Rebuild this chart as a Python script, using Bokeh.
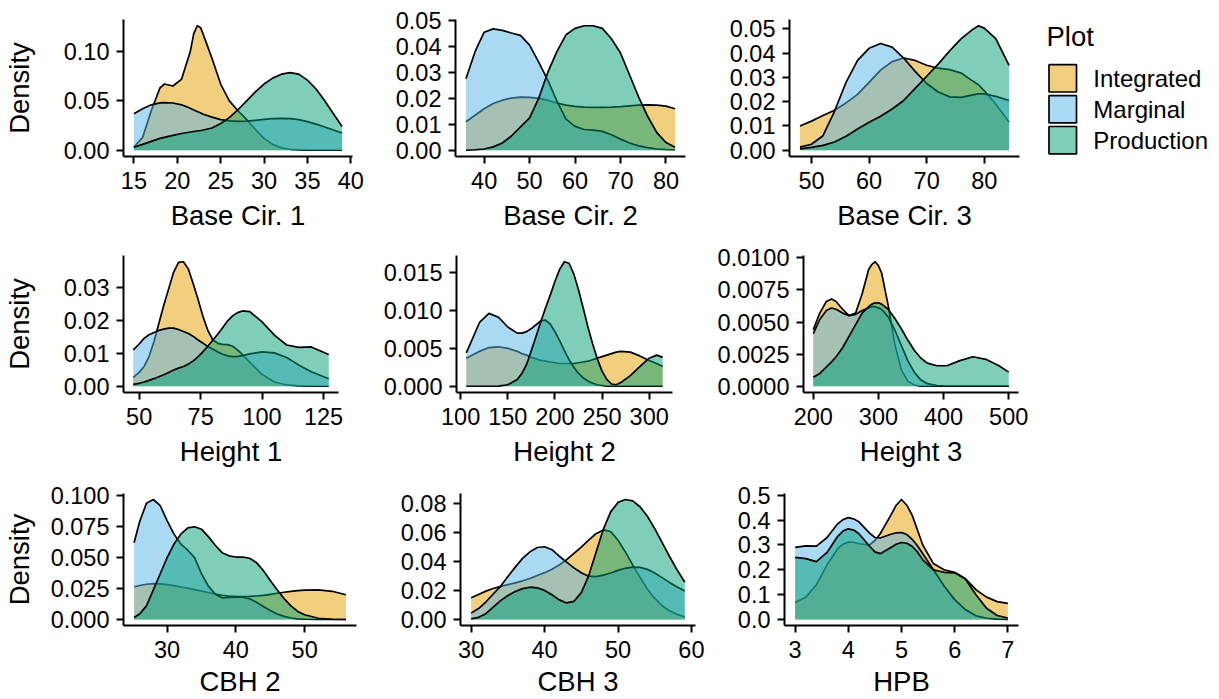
import math
from bokeh.plotting import figure
from bokeh.layouts import column, row
from bokeh.models import Range1d, FixedTicker
from bokeh.core.properties import value
from bokeh.embed import file_html
from bokeh.resources import INLINE

# ---------------- data ----------------
groups = ["Integrated", "Marginal", "Production"]
group_colors = ["#E69F00", "#56B4E9", "#009E73"]

# Base Cir. 1
bc1_x = [15, 16, 17, 18, 18.5, 19.5, 20.5, 21.5, 21.9, 22.3, 22.7, 23, 24, 25, 26, 27, 28, 29, 30, 31, 32, 33, 34, 35, 36, 37, 38, 39]
bc1_integrated = [0.003, 0.013, 0.04, 0.063, 0.067, 0.065, 0.072, 0.1, 0.118, 0.126, 0.124, 0.117, 0.093, 0.067, 0.05, 0.04, 0.031, 0.021, 0.012, 0.006, 0.0025, 0.001, 0.0004, 0.0001, 0, 0, 0, 0]
bc1_marginal = [0.037, 0.042, 0.046, 0.048, 0.0483, 0.0478, 0.046, 0.0425, 0.0408, 0.0392, 0.0377, 0.0365, 0.0335, 0.031, 0.0297, 0.0292, 0.0294, 0.0303, 0.0313, 0.032, 0.0322, 0.032, 0.031, 0.029, 0.0265, 0.0235, 0.0205, 0.0175]
bc1_production = [0.003, 0.006, 0.009, 0.012, 0.013, 0.015, 0.017, 0.0185, 0.019, 0.0195, 0.02, 0.0205, 0.0225, 0.027, 0.033, 0.041, 0.05, 0.059, 0.067, 0.073, 0.077, 0.0785, 0.077, 0.071, 0.062, 0.05, 0.037, 0.024]
bc1_xticks = [15, 20, 25, 30, 35, 40]
bc1_yticks = [0, 0.05, 0.10]
bc1_ylabels = ["0.00", "0.05", "0.10"]

# Base Cir. 2
bc2_x = [36, 38, 40, 42, 44, 46, 48, 50, 52, 54, 56, 58, 60, 62, 64, 66, 68, 70, 72, 74, 76, 78, 80, 82]
bc2_integrated = [0.011, 0.0135, 0.016, 0.018, 0.0193, 0.0201, 0.0205, 0.0204, 0.02, 0.0193, 0.0182, 0.0174, 0.0169, 0.0166, 0.0165, 0.0165, 0.0166, 0.0168, 0.0171, 0.0174, 0.0175, 0.0174, 0.017, 0.016]
bc2_marginal = [0.0276, 0.038, 0.0455, 0.0468, 0.0462, 0.0452, 0.0443, 0.0405, 0.034, 0.027, 0.019, 0.012, 0.0092, 0.008, 0.0078, 0.0073, 0.006, 0.0043, 0.0028, 0.0017, 0.001, 0.0005, 0.0003, 0.0002]
bc2_production = [0.0, 0.0002, 0.0005, 0.0013, 0.0028, 0.0055, 0.009, 0.0125, 0.02, 0.03, 0.038, 0.0445, 0.047, 0.048, 0.048, 0.047, 0.043, 0.0375, 0.029, 0.0205, 0.013, 0.0068, 0.003, 0.0012]
bc2_xticks = [40, 50, 60, 70, 80]
bc2_yticks = [0, 0.01, 0.02, 0.03, 0.04, 0.05]
bc2_ylabels = ["0.00", "0.01", "0.02", "0.03", "0.04", "0.05"]

# Base Cir. 3
bc3_x = [48, 50, 52, 54, 56, 58, 60, 62, 64, 66, 68, 70, 72, 74, 76, 78, 79, 80, 82, 84.3]
bc3_integrated = [0.0100, 0.012, 0.0143, 0.0165, 0.0195, 0.023, 0.028, 0.033, 0.0365, 0.038, 0.037, 0.035, 0.0338, 0.0332, 0.0318, 0.0285, 0.027, 0.0245, 0.019, 0.0116]
bc3_marginal = [0.0013, 0.0025, 0.006, 0.016, 0.028, 0.037, 0.042, 0.044, 0.0425, 0.038, 0.0325, 0.0275, 0.024, 0.022, 0.0218, 0.0228, 0.0232, 0.0232, 0.0222, 0.0205]
bc3_production = [0.0006, 0.0012, 0.002, 0.0034, 0.0058, 0.0088, 0.0115, 0.014, 0.017, 0.0205, 0.0255, 0.0305, 0.0355, 0.041, 0.046, 0.0498, 0.0513, 0.0503, 0.046, 0.035]
bc3_xticks = [50, 60, 70, 80]
bc3_yticks = [0, 0.01, 0.02, 0.03, 0.04, 0.05]
bc3_ylabels = ["0.00", "0.01", "0.02", "0.03", "0.04", "0.05"]

# Height 1
h1_x = [47.6, 50, 52, 54, 56, 58, 60, 62, 64, 66, 68, 70, 72, 74, 76, 78, 80, 82, 84, 86, 88, 90, 92, 95, 100, 105, 110, 115, 120, 127.1]
h1_integrated = [0.0027, 0.0042, 0.006, 0.009, 0.0135, 0.019, 0.0245, 0.0295, 0.0345, 0.0375, 0.0377, 0.0355, 0.031, 0.0262, 0.021, 0.0168, 0.014, 0.013, 0.0127, 0.0126, 0.0121, 0.011, 0.0096, 0.0073, 0.0036, 0.0013, 0.0004, 0.0001, 0, 0]
h1_marginal = [0.011, 0.0128, 0.0145, 0.0156, 0.0163, 0.0169, 0.0173, 0.0176, 0.0176, 0.0172, 0.0166, 0.016, 0.0151, 0.014, 0.013, 0.012, 0.0112, 0.0104, 0.0097, 0.0092, 0.009, 0.009, 0.0093, 0.0098, 0.0104, 0.0101, 0.0087, 0.0064, 0.0044, 0.0023]
h1_production = [0.0006, 0.0009, 0.0013, 0.0018, 0.0023, 0.0029, 0.0035, 0.0042, 0.0049, 0.0055, 0.006, 0.0067, 0.0077, 0.009, 0.0105, 0.0122, 0.014, 0.0158, 0.0178, 0.0198, 0.0213, 0.0223, 0.0228, 0.0226, 0.0195, 0.0155, 0.0125, 0.0118, 0.0119, 0.0096]
h1_xticks = [50, 75, 100, 125]
h1_yticks = [0, 0.01, 0.02, 0.03]
h1_ylabels = ["0.00", "0.01", "0.02", "0.03"]

# Height 2
h2_x = [106, 120, 130, 140, 150, 160, 165, 170, 175, 180, 185, 190, 195, 200, 205, 210, 215, 220, 225, 230, 235, 240, 245, 250, 255, 260, 265, 270, 280, 290, 300, 308, 314.3]
h2_integrated = [0.0037, 0.0046, 0.0051, 0.0052, 0.005, 0.0046, 0.0043, 0.0041, 0.0038, 0.0036, 0.0034, 0.0033, 0.0032, 0.0031, 0.003, 0.003, 0.003, 0.003, 0.0031, 0.0032, 0.0033, 0.0035, 0.0037, 0.0039, 0.0041, 0.0043, 0.0045, 0.0046, 0.0045, 0.004, 0.0034, 0.003, 0.0026]
h2_marginal = [0.0044, 0.0084, 0.0096, 0.0091, 0.0078, 0.007, 0.007, 0.0072, 0.0076, 0.0081, 0.0086, 0.0087, 0.0082, 0.0072, 0.006, 0.0047, 0.0035, 0.0025, 0.0017, 0.0011, 0.0007, 0.0004, 0.0002, 0.0001, 0, 0, 0, 0, 0, 0, 0, 0, 0]
h2_production = [0, 0, 0, 0.00003, 0.0002, 0.0009, 0.0017, 0.0029, 0.0047, 0.0066, 0.0085, 0.0103, 0.012, 0.0138, 0.0154, 0.0164, 0.0162, 0.0148, 0.0127, 0.0103, 0.0078, 0.0056, 0.0036, 0.002, 0.0009, 0.0003, 0.0002, 0.0005, 0.0014, 0.0026, 0.0037, 0.0041, 0.0038]
h2_xticks = [100, 150, 200, 250, 300]
h2_yticks = [0, 0.005, 0.010, 0.015]
h2_ylabels = ["0.000", "0.005", "0.010", "0.015"]

# Height 3
h3_x = [200, 210, 220, 228, 235, 245, 255, 265, 275, 285, 290, 295, 300, 305, 315, 325, 335, 345, 355, 365, 375, 390, 405, 425, 445, 465, 485, 500]
h3_integrated = [0.0044, 0.0057, 0.0066, 0.0068, 0.0066, 0.006, 0.0055, 0.0057, 0.0072, 0.0091, 0.0095, 0.0097, 0.0094, 0.0088, 0.0063, 0.0033, 0.0013, 0.0004, 0.0001, 0, 0, 0, 0, 0, 0, 0, 0, 0]
h3_marginal = [0.0041, 0.0052, 0.0059, 0.0061, 0.006, 0.0057, 0.0055, 0.0056, 0.0059, 0.0061, 0.0062, 0.0062, 0.0061, 0.006, 0.0054, 0.0044, 0.0032, 0.002, 0.0011, 0.0005, 0.0002, 0.00005, 0, 0, 0, 0, 0, 0]
h3_production = [0.0007, 0.001, 0.0015, 0.0019, 0.0023, 0.003, 0.0039, 0.0048, 0.0057, 0.0062, 0.0064, 0.0065, 0.0065, 0.0064, 0.006, 0.0053, 0.0045, 0.0036, 0.0028, 0.0022, 0.0018, 0.0016, 0.0016, 0.002, 0.0023, 0.0021, 0.0016, 0.0011]
h3_xticks = [200, 300, 400, 500]
h3_yticks = [0, 0.0025, 0.005, 0.0075, 0.01]
h3_ylabels = ["0.0000", "0.0025", "0.0050", "0.0075", "0.0100"]

# CBH 2
cbh2_x = [25.2, 26, 27, 28, 29, 30, 31, 32, 33, 34, 35, 36, 37, 38, 39, 40, 41, 42, 43, 44, 45, 46, 47, 48, 49, 50, 52, 54, 56]
cbh2_integrated = [0.0265, 0.0275, 0.0285, 0.029, 0.0288, 0.0282, 0.0274, 0.0263, 0.0253, 0.0242, 0.023, 0.0218, 0.0206, 0.0196, 0.019, 0.0187, 0.0186, 0.0187, 0.019, 0.0195, 0.0203, 0.0212, 0.022, 0.0228, 0.0234, 0.0238, 0.0239, 0.0228, 0.02]
cbh2_marginal = [0.062, 0.079, 0.094, 0.097, 0.092, 0.08, 0.069, 0.061, 0.056, 0.05, 0.037, 0.027, 0.0205, 0.0175, 0.0178, 0.0182, 0.018, 0.0168, 0.014, 0.0105, 0.0072, 0.0045, 0.0025, 0.0012, 0.0005, 0.0002, 0, 0, 0]
cbh2_production = [0.0016, 0.0045, 0.011, 0.024, 0.037, 0.05, 0.061, 0.069, 0.074, 0.075, 0.073, 0.067, 0.06, 0.054, 0.0515, 0.0505, 0.0505, 0.0495, 0.046, 0.0395, 0.0315, 0.024, 0.017, 0.011, 0.0065, 0.0038, 0.001, 0.0002, 0]
cbh2_xticks = [30, 40, 50]
cbh2_yticks = [0, 0.025, 0.05, 0.075, 0.1]
cbh2_ylabels = ["0.000", "0.025", "0.050", "0.075", "0.100"]

# CBH 3
cbh3_x = [30, 31, 32, 33, 34, 35, 36, 37, 38, 39, 40, 41, 42, 43, 44, 45, 46, 47, 48, 49, 50, 51, 52, 53, 54, 55, 56, 57, 58, 59.1]
cbh3_integrated = [0.0149, 0.0172, 0.0195, 0.0213, 0.0228, 0.024, 0.0252, 0.0266, 0.0282, 0.0302, 0.0322, 0.0345, 0.0375, 0.0412, 0.0455, 0.0498, 0.0545, 0.059, 0.0616, 0.0605, 0.0545, 0.0465, 0.0375, 0.029, 0.021, 0.0145, 0.0095, 0.006, 0.0036, 0.0018]
cbh3_marginal = [0.0044, 0.0075, 0.012, 0.0175, 0.0228, 0.0295, 0.036, 0.042, 0.0465, 0.0495, 0.05, 0.048, 0.0435, 0.0395, 0.0355, 0.0322, 0.0298, 0.0295, 0.0305, 0.032, 0.0338, 0.0352, 0.036, 0.0358, 0.0345, 0.032, 0.0288, 0.0255, 0.0225, 0.0196]
cbh3_production = [0.0004, 0.0015, 0.004, 0.0085, 0.013, 0.0165, 0.0192, 0.0212, 0.0222, 0.0218, 0.02, 0.017, 0.0135, 0.0114, 0.0125, 0.0185, 0.03, 0.046, 0.062, 0.074, 0.0805, 0.0825, 0.0815, 0.0775, 0.071, 0.0625, 0.053, 0.0435, 0.0345, 0.0256]
cbh3_xticks = [30, 40, 50, 60]
cbh3_yticks = [0, 0.02, 0.04, 0.06, 0.08]
cbh3_ylabels = ["0.00", "0.02", "0.04", "0.06", "0.08"]

# HPB
hpb_x = [3.0, 3.2, 3.4, 3.6, 3.8, 3.9, 4.0, 4.1, 4.2, 4.4, 4.5, 4.6, 4.8, 4.9, 5.0, 5.1, 5.2, 5.3, 5.4, 5.6, 5.8, 6.0, 6.2, 6.4, 6.6, 6.8, 7.0]
hpb_integrated = [0.068, 0.09, 0.14, 0.22, 0.285, 0.303, 0.312, 0.311, 0.305, 0.3, 0.318, 0.345, 0.42, 0.46, 0.483, 0.46, 0.42, 0.36, 0.3, 0.225, 0.2, 0.19, 0.165, 0.12, 0.09, 0.072, 0.065]
hpb_marginal = [0.29, 0.296, 0.295, 0.33, 0.385, 0.402, 0.41, 0.405, 0.393, 0.348, 0.33, 0.328, 0.343, 0.349, 0.35, 0.342, 0.323, 0.297, 0.265, 0.2, 0.135, 0.08, 0.04, 0.015, 0.005, 0.0015, 0.0004]
hpb_production = [0.25, 0.245, 0.233, 0.27, 0.335, 0.356, 0.365, 0.36, 0.345, 0.295, 0.272, 0.265, 0.29, 0.303, 0.31, 0.307, 0.295, 0.272, 0.24, 0.2, 0.19, 0.188, 0.163, 0.1, 0.045, 0.016, 0.006]
hpb_xticks = [3, 4, 5, 6, 7]
hpb_yticks = [0, 0.1, 0.2, 0.3, 0.4, 0.5]
hpb_ylabels = ["0.0", "0.1", "0.2", "0.3", "0.4", "0.5"]

panels = [
    ("Base Cir. 1", bc1_x, [bc1_integrated, bc1_marginal, bc1_production], bc1_xticks, bc1_yticks, bc1_ylabels),
    ("Base Cir. 2", bc2_x, [bc2_integrated, bc2_marginal, bc2_production], bc2_xticks, bc2_yticks, bc2_ylabels),
    ("Base Cir. 3", bc3_x, [bc3_integrated, bc3_marginal, bc3_production], bc3_xticks, bc3_yticks, bc3_ylabels),
    ("Height 1", h1_x, [h1_integrated, h1_marginal, h1_production], h1_xticks, h1_yticks, h1_ylabels),
    ("Height 2", h2_x, [h2_integrated, h2_marginal, h2_production], h2_xticks, h2_yticks, h2_ylabels),
    ("Height 3", h3_x, [h3_integrated, h3_marginal, h3_production], h3_xticks, h3_yticks, h3_ylabels),
    ("CBH 2", cbh2_x, [cbh2_integrated, cbh2_marginal, cbh2_production], cbh2_xticks, cbh2_yticks, cbh2_ylabels),
    ("CBH 3", cbh3_x, [cbh3_integrated, cbh3_marginal, cbh3_production], cbh3_xticks, cbh3_yticks, cbh3_ylabels),
    ("HPB", hpb_x, [hpb_integrated, hpb_marginal, hpb_production], hpb_xticks, hpb_yticks, hpb_ylabels),
]
y_title = "Density"
legend_title = "Plot"

# ---------------- layout / style ----------------
FONT = "Liberation Sans"
TICK_SIZE = "23.5px"
TITLE_SIZE = "27.5px"
FRAME_H = 137
# per-row: (figure height, top border, x-title standoff)
row_specs = [(240, 19, 8), (235, 15, 8), (224, 18, 5)]
# per-panel: (figure width, left border, frame width, y-title standoff)
col_specs = [
    (380, 122, 230, 26), (340, 75, 230, 0), (315, 69, 230, 0),
    (380, 122, 216, 26), (328, 75, 217, 0), (332, 95, 215, 0),
    (388, 122, 234, 13), (320, 72, 235, 0), (332, 76, 234, 0),
]


def make_panel(i):
    name, xs, ys, xticks, yticks, ylabels = panels[i]
    fig_h, top_b, x_als = row_specs[i // 3]
    fig_w, left_b, frame_w, y_als = col_specs[i]
    xmin, xmax = min(xs), max(xs)
    span = xmax - xmin
    ymax = max(max(y) for y in ys)
    p = figure(width=fig_w, height=fig_h,
               x_range=Range1d(xmin - 0.05 * span, xmax + 0.05 * span),
               y_range=Range1d(-0.05 * ymax, 1.05 * ymax),
               toolbar_location=None, output_backend="svg",
               min_border_left=left_b, min_border_right=fig_w - left_b - frame_w,
               min_border_top=top_b, min_border_bottom=fig_h - top_b - FRAME_H)
    p.outline_line_color = None
    p.grid.visible = False
    p.background_fill_color = "white"
    p.border_fill_color = "white"

    for y, c in zip(ys, group_colors):
        p.varea(x=xs, y1=[0] * len(xs), y2=y, fill_color=c, fill_alpha=0.5)
        p.line(x=xs, y=y, line_color="black", line_width=1.7, line_join="round")

    p.xaxis.ticker = FixedTicker(ticks=xticks, minor_ticks=[])
    p.xaxis.major_label_overrides = {t: str(t) for t in xticks}
    p.yaxis.ticker = FixedTicker(ticks=yticks, minor_ticks=[])
    p.yaxis.major_label_overrides = {t: l for t, l in zip(yticks, ylabels)}
    for ax in (p.xaxis, p.yaxis):
        ax.axis_line_width = 2
        ax.axis_line_color = "black"
        ax.major_tick_line_width = 2
        ax.major_tick_line_color = "black"
        ax.major_tick_out = 7
        ax.major_tick_in = 0
        ax.minor_tick_line_color = None
        ax.major_label_text_font = FONT
        ax.major_label_text_font_size = TICK_SIZE
        ax.major_label_text_color = "black"
        ax.axis_label_text_font = FONT
        ax.axis_label_text_font_size = TITLE_SIZE
        ax.axis_label_text_font_style = "normal"
        ax.axis_label_text_color = "black"
    p.xaxis.major_label_standoff = 8
    p.yaxis.major_label_standoff = 7
    p.xaxis.axis_label = name
    p.xaxis.axis_label_standoff = x_als
    if i % 3 == 0:
        p.yaxis.axis_label = y_title
        p.yaxis.axis_label_standoff = y_als
    return p


figs = [make_panel(i) for i in range(9)]

# legend panel: its frame is aligned with the first row's frames (y 19..156 px),
# so its ranges are set to page pixels (y downwards)
LEG_W = 184
row1_h, row1_top, _ = row_specs[0]
leg = figure(width=LEG_W, height=row1_h,
             x_range=Range1d(0, LEG_W), y_range=Range1d(row1_top + FRAME_H, row1_top),
             toolbar_location=None, output_backend="svg",
             x_axis_location=None, y_axis_location=None,
             min_border_left=0, min_border_right=0,
             min_border_top=row1_top, min_border_bottom=row1_h - row1_top - FRAME_H)
leg.outline_line_color = None
leg.grid.visible = False
KEY_L, KEY_W, KEY_TOP, KEY_H, PITCH = 13.5, 27.5, 64.2, 27.3, 30.9
n = len(groups)
tops = [KEY_TOP + k * PITCH for k in range(n)]
leg.quad(left=[KEY_L] * n, right=[KEY_L + KEY_W] * n, top=tops, bottom=[t + KEY_H for t in tops],
         fill_color=group_colors, fill_alpha=0.5, line_color="black", line_width=1.7)
leg.text(x=[KEY_L + KEY_W + 16.8] * n, y=[t + KEY_H / 2 + 0.5 for t in tops], text=groups,
         text_font=value(FONT), text_font_size="24px", text_color="black",
         text_baseline="middle", text_align="left")
leg.text(x=[11], y=[35.5], text=[legend_title], text_font=value(FONT), text_font_size=TITLE_SIZE,
         text_color="black", text_baseline="middle", text_align="left")

layout = column(row(figs[0], figs[1], figs[2], leg),
                row(figs[3], figs[4], figs[5]),
                row(figs[6], figs[7], figs[8]))

open("out.html", "w").write(file_html(layout, INLINE))
